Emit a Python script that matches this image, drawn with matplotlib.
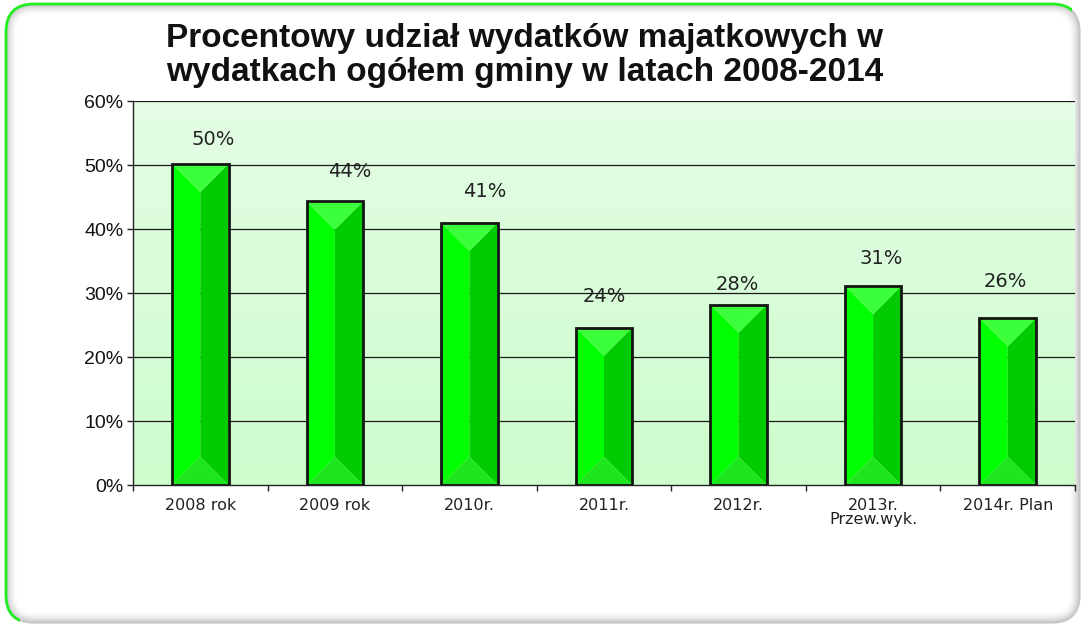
import matplotlib.pyplot as plt
import numpy as np
from matplotlib.patches import FancyBboxPatch, Polygon
from matplotlib.colors import LinearSegmentedColormap
from matplotlib.transforms import IdentityTransform

categories = ["2008 rok", "2009 rok", "2010r.", "2011r.", "2012r.", "2013r.\nPrzew.wyk.", "2014r. Plan"]
shares = [50.2, 44.3, 41.0, 24.6, 28.2, 31.1, 26.1]
bar_labels = ["50%", "44%", "41%", "24%", "28%", "31%", "26%"]
# label nudges (pixels) relative to bar top centre, as placed in the original
label_dx = [13, 15, 15, 0, -1, 8, -2]
label_dy = [24, 30, 31, 31, 20, 27, 36]

W, H = 1082, 625
fig = plt.figure(figsize=(W / 100, H / 100), dpi=100)
fig.patch.set_facecolor("white")

# rounded frame (pixel coordinates), inner shadow, green edge on top/left
fx0, fy0, fx1, fy1, rad = 6, 2, 1080, 621, 28
px = IdentityTransform()
fig.patches.append(FancyBboxPatch((fx0, fy0), fx1 - fx0, fy1 - fy0,
                                  boxstyle=f"round,pad=0,rounding_size={rad}", transform=px,
                                  facecolor="white", edgecolor="none", zorder=-4))
for k in range(12):
    a = 0.32 * (1 - k / 12) ** 2
    fig.patches.append(FancyBboxPatch((fx0 + k, fy0 + k), fx1 - fx0 - 2 * k, fy1 - fy0 - 2 * k,
                                      boxstyle=f"round,pad=0,rounding_size={max(rad - k, 2)}",
                                      transform=px, facecolor="none",
                                      edgecolor=(0.4, 0.4, 0.4, a), linewidth=1, zorder=-3))
green = FancyBboxPatch((fx0, fy0), fx1 - fx0, fy1 - fy0,
                       boxstyle=f"round,pad=0,rounding_size={rad}", transform=px,
                       facecolor="none", edgecolor="#22ee22", linewidth=2, zorder=-2)
fig.patches.append(green)
clip = Polygon([(0, 0), (20, 0), (20, H - 20), (1072, H - 20), (1072, H), (0, H)], closed=True,
               transform=px, facecolor="none", edgecolor="none")
green.set_clip_path(clip)

left, right, top, bottom = 133 / W, 1075 / W, 1 - 101 / H, 1 - 485 / H
ax = fig.add_axes([left, bottom, right - left, top - bottom])
ax.set_zorder(1)
ax.set_xlim(-0.5, len(categories) - 0.5)
ax.set_ylim(0, 60)

# gradient plot area
cmap = LinearSegmentedColormap.from_list("bg", ["#cdfdcd", "#e4fce4"])
ax.imshow(np.linspace(0, 1, 256).reshape(-1, 1), cmap=cmap, aspect="auto",
          extent=(-0.5, len(categories) - 0.5, 0, 60), origin="lower", zorder=0)

for y in range(10, 61, 10):
    ax.axhline(y, color="#1a1a1a", linewidth=0.9, zorder=1)

x = np.arange(len(categories))
bw = 0.42
ax_h_px = (top - bottom) * H
ax_w_px = (right - left) * W
half_px = bw / 2 * ax_w_px / len(categories)
dy = half_px * 60 / ax_h_px

for xi, v in zip(x, shares):
    x0, x1, xc = xi - bw / 2, xi + bw / 2, xi
    ax.add_patch(Polygon([(x0, v), (xc, v - dy), (xc, dy), (x0, 0)], closed=True,
                         facecolor="#00ff00", edgecolor="none", zorder=2))
    ax.add_patch(Polygon([(x1, v), (xc, v - dy), (xc, dy), (x1, 0)], closed=True,
                         facecolor="#00cc00", edgecolor="none", zorder=2))
    ax.add_patch(Polygon([(x0, v), (x1, v), (xc, v - dy)], closed=True,
                         facecolor="#3cff3c", edgecolor="none", zorder=2))
    ax.add_patch(Polygon([(x0, 0), (x1, 0), (xc, dy)], closed=True,
                         facecolor="#1ee61e", edgecolor="none", zorder=2))

ax.bar(x, shares, width=bw, facecolor="none", edgecolor="#151515", linewidth=2, zorder=3)

for xi, v, lab, ddx, ddy in zip(x, shares, bar_labels, label_dx, label_dy):
    ax.annotate(lab, (xi, v), xytext=(ddx * 0.72, ddy * 0.72), textcoords="offset points",
                ha="center", va="center", fontsize=14, family="DejaVu Sans", color="#222222", zorder=4)

ax.set_yticks(range(0, 61, 10))
ax.set_yticklabels([f"{t}%" for t in range(0, 61, 10)], fontsize=14, family="Liberation Sans", color="#111111")
ax.set_xticks(x)
ax.set_xticklabels(categories, fontsize=11.5, family="DejaVu Sans", color="#222222", linespacing=0.95)
ax.set_xticks(np.arange(-0.5, len(categories), 1), minor=True)
ax.tick_params(axis="x", which="major", length=0, pad=9)
ax.tick_params(axis="x", which="minor", length=4, width=1, color="#222222")
ax.tick_params(axis="y", length=4, width=1, color="#222222", pad=3)

for s in ["top", "right"]:
    ax.spines[s].set_visible(False)
ax.spines["left"].set_color("#222222")
ax.spines["bottom"].set_color("#222222")
ax.spines["left"].set_linewidth(1)
ax.spines["bottom"].set_linewidth(1)

fig.text(525 / W, 1 - 38 / H, "Procentowy udział wydatków majatkowych w", ha="center", va="center",
         fontsize=24, fontweight="bold", family="Liberation Sans", color="#111111")
fig.text(525 / W, 1 - 72 / H, "wydatkach ogółem gminy w latach 2008-2014", ha="center", va="center",
         fontsize=24, fontweight="bold", family="Liberation Sans", color="#111111")

fig.savefig("out.png", dpi=100)
